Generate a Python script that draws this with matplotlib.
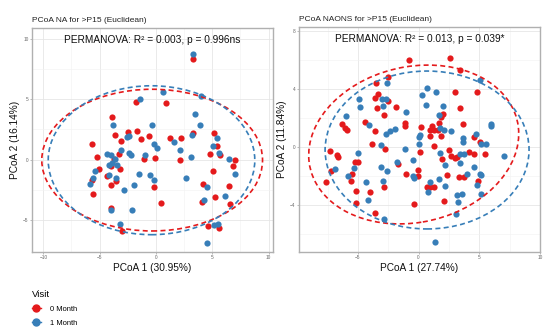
import numpy as np
import matplotlib
matplotlib.use("Agg")
import matplotlib.pyplot as plt
from matplotlib.patches import Ellipse
from matplotlib.lines import Line2D

plt.rcParams['font.family'] = ['Liberation Sans', 'DejaVu Sans']

red = '#E41A1C'
blue = '#377EB8'

# ---- data: left panel (NA) ----
na_0m = [(3.26, 8.38), (-1.77, 4.8), (0.89, 4.72), (-3.88, 3.58), (-3.66, 2.05), (-2.51, 2.28),
         (-1.71, 2.36), (-3.1, 1.55), (-1.33, 1.67), (-0.65, 1.97), (1.27, 1.75), (2.24, 1.75),
         (3.26, 2.17), (5.17, 2.17), (5.47, 1.13), (-5.68, 1.28), (-5.26, 0.22), (-3.7, 0.03),
         (-3.26, 0.44), (-5.03, -0.83), (-4.37, -1.39), (-4.0, -0.56), (-3.17, -0.75), (-3.55, -1.78),
         (-4.02, -2.11), (-5.68, -1.72), (-5.62, -2.86), (-0.15, -2.28), (-1.06, 0.03), (-0.12, 0.11),
         (2.13, 0.0), (0.44, -3.61), (4.79, 0.5), (5.65, 0.36), (7.04, 0.0), (6.86, -0.56),
         (5.06, -0.92), (6.45, -2.22), (6.57, -3.67), (4.2, -2.08), (5.21, -3.08), (4.05, -3.53),
         (4.64, -5.5), (5.59, -5.67), (-2.99, -5.95), (-4.02, -4.0)]
na_1m = [(3.26, 8.78), (0.65, 5.63), (4.0, 5.28), (-1.45, 5.0), (3.46, 3.8), (-3.79, 2.86),
         (3.9, 2.9), (-0.33, 2.86), (-2.57, 1.86), (-2.42, 1.94), (-0.2, 1.33), (0.12, 0.97),
         (1.62, 1.42), (2.13, 0.83), (3.17, 2.03), (5.47, 1.83), (5.09, 1.13), (-4.37, 0.44),
         (-3.99, 0.36), (-3.13, 0.78), (-3.67, 0.08), (-3.9, -0.28), (-3.46, -0.48), (-2.37, 0.55),
         (-2.19, 0.36), (-0.95, 0.36), (-4.2, -0.48), (-4.2, -1.28), (-3.58, -1.56), (-5.39, -0.98),
         (-5.59, -1.5), (-5.86, -2.0), (-2.84, -2.56), (-1.98, -2.14), (-1.53, -1.22), (-0.56, -1.25),
         (-0.2, -1.67), (3.13, 0.25), (2.64, -1.53), (5.59, 0.55), (6.45, 0.03), (6.98, -1.22),
         (6.15, -3.0), (4.5, -2.33), (4.23, -3.39), (5.15, -5.45), (5.53, -5.39), (4.55, -6.92),
         (-3.17, -5.39), (-3.99, -4.17), (-2.13, -4.17)]

# ---- data: right panel (NAONS) ----
naons_0m = [(-0.79, 6.0), (2.6, 6.15), (3.39, 5.31), (4.85, 3.82), (3.04, 3.82), (-3.5, 4.42),
            (-2.52, 4.8), (-3.61, 3.36), (-3.34, 3.66), (-2.52, 3.17), (-3.39, 2.71), (-1.85, 2.77),
            (-2.83, 2.2), (3.43, 2.72), (-6.3, 1.59), (-6.04, 1.3), (-5.88, 1.2), (-4.44, 1.75),
            (-3.62, 1.12), (-1.1, 1.65), (-1.08, 1.44), (0.22, 1.36), (1.13, 1.48), (0.94, 1.15),
            (1.3, 1.16), (1.56, 1.19), (1.7, 1.67), (1.85, 2.08), (2.04, 2.28), (0.94, 0.78),
            (1.88, 0.78), (1.23, 0.07), (0.15, -0.38), (-3.83, 0.19), (-2.78, -0.11), (-7.3, -0.28),
            (-6.72, -0.58), (-6.65, -0.7), (4.55, 0.69), (5.02, 0.37), (3.68, 1.61), (5.47, -0.49),
            (4.54, -0.48), (4.15, -0.32), (2.52, -0.23), (2.7, -0.65), (2.98, -0.73), (3.17, -0.71),
            (1.96, -0.8), (-7.2, -1.68), (-5.5, -1.86), (-5.2, -1.07), (-4.95, -1.06), (-7.66, -2.44),
            (-5.58, -2.32), (-5.17, -3.07), (-5.16, -3.89), (-4.04, -3.11), (-3.55, -4.53), (-2.85, -2.74),
            (-1.73, -1.18), (-1.01, -1.86), (-0.07, -1.56), (-0.06, -1.98), (-0.34, -3.94), (0.68, -2.74),
            (0.98, -2.74), (1.31, -2.74), (2.36, -1.95), (2.08, -3.7), (3.31, -2.05), (3.72, -2.05),
            (4.93, -2.36)]
naons_1m = [(5.05, 4.63), (0.68, 4.08), (1.46, 3.82), (0.27, 3.6), (-2.62, 4.4), (-4.94, 3.32),
            (-4.8, 2.77), (-2.98, 3.31), (-2.7, 3.31), (-2.9, 2.82), (-1.04, 2.44), (0.65, 2.89),
            (1.98, 2.86), (-5.96, 2.16), (-4.07, 1.52), (-2.67, 0.92), (-2.34, 1.12), (-1.98, 1.23),
            (0.0, 0.7), (0.1, 0.85), (1.67, 2.2), (1.8, 1.3), (2.08, 1.18), (2.69, 1.12),
            (-1.15, -0.16), (0.06, 0.19), (-3.12, 0.15), (-5.0, -0.42), (3.62, 0.61), (3.63, 0.37),
            (4.72, 0.87), (5.12, 0.21), (5.56, 0.21), (5.97, 1.59), (5.97, 1.46), (7.06, -0.62),
            (3.72, -0.46), (3.45, -0.48), (1.77, -0.4), (-6.9, -1.5), (-5.85, -1.99), (-5.34, -1.47),
            (-4.35, -2.44), (-4.15, -3.67), (-2.83, -4.99), (-3.11, -1.4), (-2.97, -2.34), (-2.58, -1.63),
            (-1.76, -1.04), (-0.45, -0.92), (-0.37, -2.12), (-0.44, -2.0), (0.91, -2.44), (0.78, -3.13),
            (1.7, -2.19), (2.2, -1.27), (2.21, -2.67), (3.4, -1.08), (3.98, -1.86), (4.58, -1.36),
            (5.05, -1.84), (5.13, -1.96), (4.83, -2.6), (5.12, -3.25), (3.19, -3.31), (3.6, -3.26),
            (3.25, -3.77), (3.06, -4.6), (1.32, -6.56)]

# ellipses: (cx, cy, semi-x, semi-y, angle)
na_ell = {'0 Month': (-0.33, -0.05, 9.8, 5.9, 0), '1 Month': (-0.39, -0.06, 9.17, 6.2, 0)}
naons_ell = {'0 Month': (-0.4, 0.17, 8.7, 5.4, 8), '1 Month': (0.7, -0.21, 8.4, 5.45, 0)}

titles = ["PCoA NA for >P15 (Euclidean)", "PCoA NAONS for >P15 (Euclidean)"]
stats = ["PERMANOVA: R\u00b2 = 0.003, p = 0.996ns", "PERMANOVA: R\u00b2 = 0.013, p = 0.039*"]
xlabels = ["PCoA 1 (30.95%)", "PCoA 1 (27.74%)"]
ylabels = ["PCoA 2 (16.14%)", "PCoA 2 (11.84%)"]


def panel(ax, d0, d1, ell, title, stat, xl, yl, xlim, ylim, xmaj, ymaj, xmin, ymin, stat_y):
    ax.set_facecolor('white')
    ax.set_xticks(xmaj)
    ax.set_yticks(ymaj)
    ax.set_xticks(xmin, minor=True)
    ax.set_yticks(ymin, minor=True)
    ax.grid(True, which='major', color='#E6E6E6', lw=0.6)
    ax.grid(True, which='minor', color='#F2F2F2', lw=0.4)
    ax.set_axisbelow(True)
    for s in ax.spines.values():
        s.set_color('#B0B0B0')
        s.set_linewidth(1.0)
    ax.tick_params(which='major', labelsize=3.4, labelcolor='#666666', color='#888888', length=1.5, width=0.4, pad=1)
    ax.tick_params(which='minor', length=0)
    a0 = np.array(d0)
    a1 = np.array(d1)
    ax.scatter(a0[:, 0], a0[:, 1], s=20, color=red, lw=0, zorder=3)
    ax.scatter(a1[:, 0], a1[:, 1], s=20, color=blue, lw=0, zorder=3)
    for lab, col in [('0 Month', red), ('1 Month', blue)]:
        cx, cy, a, b, ang = ell[lab]
        ax.add_patch(Ellipse((cx, cy), 2 * a, 2 * b, angle=ang, fill=False, edgecolor=col,
                             lw=1.2, linestyle=(0, (3.0, 2.0)), zorder=4))
    ax.set_xlim(xlim)
    ax.set_ylim(ylim)
    ax.set_title(title, loc='left', fontsize=6, pad=4, color='#222222')
    ax.text(0.5, stat_y, stat, transform=ax.transAxes, ha='center', va='center', fontsize=7.3, color='#111111')
    ax.set_xlabel(xl, fontsize=7.3, labelpad=2, color='#111111')
    ax.set_ylabel(yl, fontsize=7.3, labelpad=2.5, color='#111111')


fig = plt.figure(figsize=(5.5, 3.31), dpi=100)
ax1 = fig.add_axes([0.0582, 0.2387, 0.4382, 0.6767])
ax2 = fig.add_axes([0.5436, 0.2387, 0.4382, 0.6806])

panel(ax1, na_0m, na_1m, na_ell, titles[0], stats[0], xlabels[0], ylabels[0],
      (-11.0, 10.4), (-7.7, 10.95), [-10, -5, 0, 5, 10], [-5, 0, 5, 10],
      [-7.5, -2.5, 2.5, 7.5], [-2.5, 2.5, 7.5], 0.945)
panel(ax2, naons_0m, naons_1m, naons_ell, titles[1], stats[1], xlabels[1], ylabels[1],
      (-9.85, 10.0), (-7.25, 8.3), [-5, 0, 5, 10], [-4, 0, 4, 8],
      [-7.5, -2.5, 2.5, 7.5], [-6, -2, 2, 6], 0.945)

handles = [Line2D([], [], color=red, marker='o', markersize=5, lw=1.0),
           Line2D([], [], color=blue, marker='o', markersize=5, lw=1.0)]
leg = fig.legend(handles, ['0 Month', '1 Month'], title='Visit', loc='upper left',
                 bbox_to_anchor=(0.045, 0.145), frameon=False, fontsize=5.4, title_fontsize=6.8,
                 handlelength=1.3, handletextpad=1.2, labelspacing=0.9, alignment='left')

fig.savefig("out.png", dpi=100)
